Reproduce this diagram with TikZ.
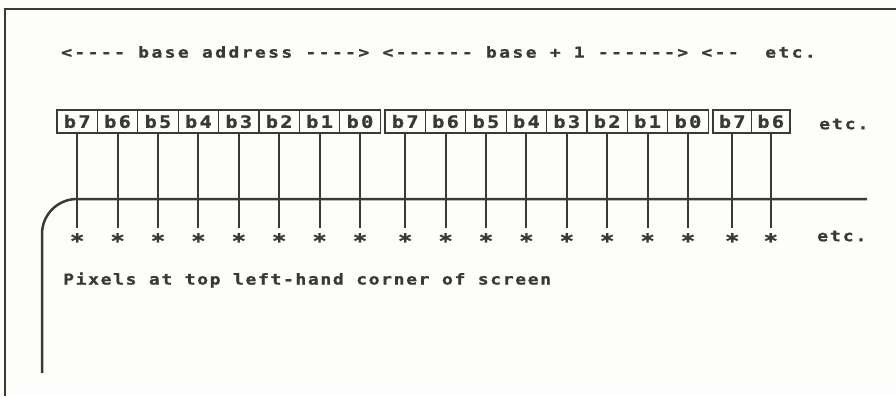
\documentclass[tikz,border=0pt]{standalone}
\usepackage{fontspec}
\usetikzlibrary{positioning}
\newfontfamily\dotfont{DejaVu Sans Mono}[FakeStretch=1.2,FakeBold=1.2,LetterSpace=13,Ligatures=TeXOff]
\definecolor{inkgray}{HTML}{3A3A35}
\definecolor{paper}{HTML}{FDFDFB}

\begin{document}
\begin{tikzpicture}[x=1pt, y=-1pt,
    bitbox/.style={rectangle, draw=inkgray, line width=1.3pt,
                   minimum width=40.4pt, minimum height=23pt,
                   inner sep=0pt, outer sep=0pt, text=inkgray,
                   font=\dotfont\bfseries\fontsize{17}{17}\selectfont},
    caption/.style={anchor=west, inner sep=0pt, text=inkgray,
                    font=\dotfont\bfseries\fontsize{15}{15}\selectfont},
    pixel/.style={anchor=base, inner sep=0pt, text=inkgray,
                  font=\dotfont\bfseries\fontsize{20}{20}\selectfont},
    wire/.style={draw=inkgray, line width=2pt}
]
\fill[paper] (0,0) rectangle (896,396);
\useasboundingbox (0,0) rectangle (896,396);

% page frame
\draw[wire] (5,396) -- (5,9) -- (896,9);

% address line
\node[caption, font=\dotfont\bfseries\fontsize{15}{15}\selectfont\addfontfeature{LetterSpace=16}]
    (addr) at (61,52)
    {<---- base address ----> <------ base + 1 ------> <--\ \ etc.};

% bytes
\foreach \b [count=\i from 0] in {7,6,...,0}
    \node[bitbox] (base\b) at ({77.2+40.4*\i},121.5) {b\b};
\foreach \b [count=\i from 0] in {7,6,...,0}
    \node[bitbox] (next\b) at ({405.2+40.4*\i},121.5) {b\b};
\node[bitbox, minimum width=38.5pt] (third7) at (732.25,121.5) {b7};
\node[bitbox, minimum width=38.5pt, right=0pt of third7] (third6) {b6};
\node[caption] (etcbits) at (819,124) {etc.};

% screen edge
\coordinate (tickend) at (0,228);
\coordinate (pixrow) at (0,248);
\draw[wire, line width=2.5pt, rounded corners=35pt] (42,373) -- (42,199) -- (867,199);

% bits down to pixels
\foreach \byte/\bits in {base/{7,6,...,0}, next/{7,6,...,0}, third/{7,6}}
    \foreach \b in \bits {
        \draw[wire] (\byte\b.south) -- (\byte\b.south |- tickend);
        \node[pixel] (px\byte\b) at (\byte\b.south |- pixrow) {*};
    }
\node[caption] (etcpix) at (817,236) {etc.};

\node[caption, font=\dotfont\bfseries\fontsize{15}{15}\selectfont\addfontfeature{LetterSpace=11}]
    (note) at (63,280) {Pixels at top left-hand corner of screen};
\end{tikzpicture}
\end{document}
